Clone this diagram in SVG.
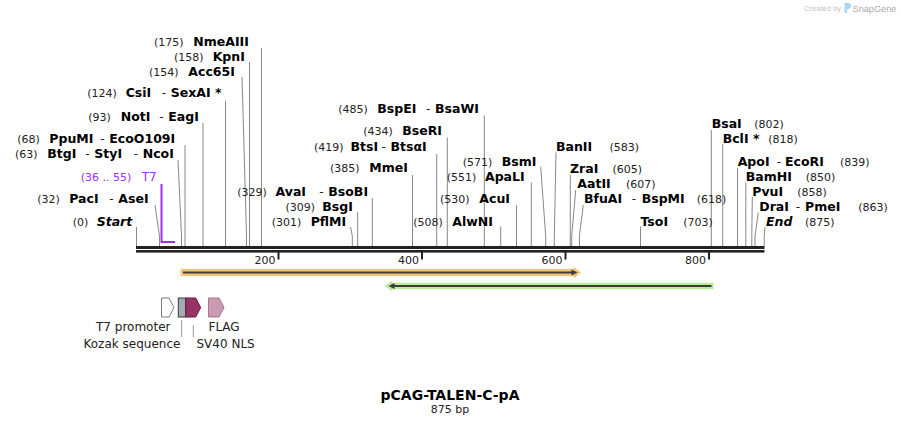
<svg xmlns="http://www.w3.org/2000/svg" width="901" height="425" viewBox="0 0 901 425">
<style>
.num{font-family:"DejaVu Sans",Verdana,sans-serif;font-size:11px;fill:#222}
.hy{font-family:"DejaVu Sans",Verdana,sans-serif;font-size:12px;fill:#222}
.nm{font-family:"DejaVu Sans",Verdana,sans-serif;font-size:12.5px;font-weight:bold;fill:#000}
.it{font-style:italic}
.site{stroke:#888;stroke-width:1;fill:none}
.flab{font-family:"DejaVu Sans",Verdana,sans-serif;font-size:12px;fill:#222}
.tick{font-family:"DejaVu Sans",Verdana,sans-serif;font-size:11px;fill:#222}
.t7{fill:#9b30ef}
.lead{stroke:#999;stroke-width:1}
</style>

<g id="watermark">
<text x="804" y="11" font-family="Liberation Sans,Arial,sans-serif" font-size="7.6" fill="#c4c4c4">Created by</text>
<path d="M844.5,3 h3.5 a3,3 0 0 1 0,6 h-0.8 v4 h-2.7 z" fill="#a6d6f4"/>
<text x="852.5" y="11.5" font-family="Liberation Sans,Arial,sans-serif" font-size="9.2" fill="#aaaaaa">SnapGene</text>
</g>

<g id="connectors">
<polyline class="site" points="136.5,227 136.5,246"/>
<polyline class="site" points="155,205 159.5,236 159.5,246"/>
<polyline class="site" points="178,160 181.5,236 181.5,246"/>
<polyline class="site" points="185,145 185,246"/>
<polyline class="site" points="203,123 203,246"/>
<polyline class="site" points="225.5,101 225.5,246"/>
<polyline class="site" points="242,77 246.5,236 246.5,246"/>
<polyline class="site" points="249.5,62 249.5,246"/>
<polyline class="site" points="261.5,48 261.5,246"/>
<polyline class="site" points="350.5,227 352.3,236 352.3,246"/>
<polyline class="site" points="357.7,212 357.7,246"/>
<polyline class="site" points="372.3,198 372.3,246"/>
<polyline class="site" points="412.5,175 412.5,246"/>
<polyline class="site" points="436.7,154 436.7,246"/>
<polyline class="site" points="447.3,137.5 447.3,246"/>
<polyline class="site" points="484.3,115.5 484.3,246"/>
<polyline class="site" points="500.7,226.5 500.7,246"/>
<polyline class="site" points="516.5,205 516.5,246"/>
<polyline class="site" points="531.3,182.5 531.3,246"/>
<polyline class="site" points="540.7,166.5 545.7,236 545.7,246"/>
<polyline class="site" points="556,152.5 554.3,236 554.3,246"/>
<polyline class="site" points="570.3,175 570.3,246"/>
<polyline class="site" points="575.7,190 571.7,236 571.7,246"/>
<polyline class="site" points="583.3,205 579.4,236 579.4,246"/>
<polyline class="site" points="640.5,226.5 640.5,246"/>
<polyline class="site" points="711.3,130 711.3,246"/>
<polyline class="site" points="722.7,144 722.7,246"/>
<polyline class="site" points="737.5,168 737.5,246"/>
<polyline class="site" points="745.8,182.5 745.8,246"/>
<polyline class="site" points="752.3,197 751.8,236 751.8,246"/>
<polyline class="site" points="758.3,212.5 755,236 755,246"/>
<polyline class="site" points="765,227 764.2,236 764.2,246"/>
<line class="lead" x1="181.7" y1="320" x2="181.7" y2="337"/>
<line class="lead" x1="193.3" y1="325" x2="193.3" y2="337"/>
</g>

<g id="backbone">
<rect x="136" y="246" width="628.5" height="3" fill="#222"/>
<rect x="136" y="250" width="628.5" height="2.6" fill="#222"/>
<rect x="277.5" y="252" width="2" height="7.5" fill="#222"/>
<rect x="421" y="252" width="2" height="7.5" fill="#222"/>
<rect x="564.5" y="252" width="2" height="7.5" fill="#222"/>
<rect x="708" y="252" width="2" height="7.5" fill="#222"/>
<text class="tick" x="275.5" y="263.5" text-anchor="end">200</text>
<text class="tick" x="419" y="263.5" text-anchor="end">400</text>
<text class="tick" x="562.5" y="263.5" text-anchor="end">600</text>
<text class="tick" x="706" y="263.5" text-anchor="end">800</text>
</g>

<g id="T7">
<polyline points="161.5,184 161.5,242 175,242" fill="none" stroke="#9b30ef" stroke-width="2"/>
<text y="180.5"><tspan class="num t7" x="80.7">(36 .. 55)</tspan><tspan class="hy t7" x="141.7">T7</tspan></text>
</g>

<g id="site-Start"><text y="226"><tspan class="num" x="72.7">(0)</tspan><tspan class="nm it" x="96.7">Start</tspan></text></g>
<g id="site-PacI"><text y="203"><tspan class="num" x="37.3">(32)</tspan><tspan class="nm" x="69.3">PacI</tspan><tspan class="hy" x="109.3">-</tspan><tspan class="nm" x="118.3">AseI</tspan></text></g>
<g id="site-BtgI"><text y="158"><tspan class="num" x="15">(63)</tspan><tspan class="nm" x="47.3">BtgI</tspan><tspan class="hy" x="85.3">-</tspan><tspan class="nm" x="94.3">StyI</tspan><tspan class="hy" x="133.7">-</tspan><tspan class="nm" x="142.7">NcoI</tspan></text></g>
<g id="site-PpuMI"><text y="143"><tspan class="num" x="17.3">(68)</tspan><tspan class="nm" x="49.3">PpuMI</tspan><tspan class="hy" x="100.3">-</tspan><tspan class="nm" x="109.3">EcoO109I</tspan></text></g>
<g id="site-NotI"><text y="120.5"><tspan class="num" x="88.3">(93)</tspan><tspan class="nm" x="120.7">NotI</tspan><tspan class="hy" x="159.3">-</tspan><tspan class="nm" x="168.3">EagI</tspan></text></g>
<g id="site-CsiI"><text y="96.5"><tspan class="num" x="87.3">(124)</tspan><tspan class="nm" x="125.7">CsiI</tspan><tspan class="hy" x="161.7">-</tspan><tspan class="nm" x="170.7">SexAI *</tspan></text></g>
<g id="site-Acc65I"><text y="76"><tspan class="num" x="149">(154)</tspan><tspan class="nm" x="188.3">Acc65I</tspan></text></g>
<g id="site-KpnI"><text y="61"><tspan class="num" x="174">(158)</tspan><tspan class="nm" x="212.7">KpnI</tspan></text></g>
<g id="site-NmeAIII"><text y="46"><tspan class="num" x="154">(175)</tspan><tspan class="nm" x="193.3">NmeAIII</tspan></text></g>

<g id="site-PflMI"><text y="225.5"><tspan class="num" x="271.7">(301)</tspan><tspan class="nm" x="310.7">PflMI</tspan></text></g>
<g id="site-BsgI"><text y="210.5"><tspan class="num" x="285.5">(309)</tspan><tspan class="nm" x="322.3">BsgI</tspan></text></g>
<g id="site-AvaI"><text y="196"><tspan class="num" x="237.3">(329)</tspan><tspan class="nm" x="275.5">AvaI</tspan><tspan class="hy" x="319.3">-</tspan><tspan class="nm" x="328.3">BsoBI</tspan></text></g>
<g id="site-MmeI"><text y="172"><tspan class="num" x="330">(385)</tspan><tspan class="nm" x="369.3">MmeI</tspan></text></g>
<g id="site-BtsI"><text y="150.5"><tspan class="num" x="314">(419)</tspan><tspan class="nm" x="350.5">BtsI</tspan><tspan class="hy" x="381.5">-</tspan><tspan class="nm" x="390.5">BtsαI</tspan></text></g>
<g id="site-BseRI"><text y="135"><tspan class="num" x="363.3">(434)</tspan><tspan class="nm" x="402.3">BseRI</tspan></text></g>
<g id="site-BspEI"><text y="113"><tspan class="num" x="338.3">(485)</tspan><tspan class="nm" x="377.3">BspEI</tspan><tspan class="hy" x="426">-</tspan><tspan class="nm" x="435">BsaWI</tspan></text></g>
<g id="site-AlwNI"><text y="225.5"><tspan class="num" x="413.3">(508)</tspan><tspan class="nm" x="452.3">AlwNI</tspan></text></g>
<g id="site-AcuI"><text y="202.5"><tspan class="num" x="440">(530)</tspan><tspan class="nm" x="479.3">AcuI</tspan></text></g>
<g id="site-ApaLI"><text y="181"><tspan class="num" x="446.7">(551)</tspan><tspan class="nm" x="485">ApaLI</tspan></text></g>
<g id="site-BsmI"><text y="165.5"><tspan class="num" x="462.7">(571)</tspan><tspan class="nm" x="501.7">BsmI</tspan></text></g>

<g id="site-BanII"><text y="151"><tspan class="nm" x="556">BanII</tspan><tspan class="num" x="609.5">(583)</tspan></text></g>
<g id="site-ZraI"><text y="173"><tspan class="nm" x="570">ZraI</tspan><tspan class="num" x="612.5">(605)</tspan></text></g>
<g id="site-AatII"><text y="188"><tspan class="nm" x="577.3">AatII</tspan><tspan class="num" x="626">(607)</tspan></text></g>
<g id="site-BfuAI"><text y="203"><tspan class="nm" x="584">BfuAI</tspan><tspan class="hy" x="631.7">-</tspan><tspan class="nm" x="641.7">BspMI</tspan><tspan class="num" x="696.7">(618)</tspan></text></g>
<g id="site-TsoI"><text y="226"><tspan class="nm" x="640.5">TsoI</tspan><tspan class="num" x="683.3">(703)</tspan></text></g>
<g id="site-BsaI"><text y="128"><tspan class="nm" x="711.7">BsaI</tspan><tspan class="num" x="754.3">(802)</tspan></text></g>
<g id="site-BclI"><text y="143"><tspan class="nm" x="722.7">BclI *</tspan><tspan class="num" x="768.3">(818)</tspan></text></g>
<g id="site-ApoI"><text y="166"><tspan class="nm" x="737.7">ApoI</tspan><tspan class="hy" x="776.7">-</tspan><tspan class="nm" x="785">EcoRI</tspan><tspan class="num" x="840">(839)</tspan></text></g>
<g id="site-BamHI"><text y="181"><tspan class="nm" x="745.7">BamHI</tspan><tspan class="num" x="805.7">(850)</tspan></text></g>
<g id="site-PvuI"><text y="196"><tspan class="nm" x="752.3">PvuI</tspan><tspan class="num" x="797.3">(858)</tspan></text></g>
<g id="site-DraI"><text y="211"><tspan class="nm" x="759.3">DraI</tspan><tspan class="hy" x="795.7">-</tspan><tspan class="nm" x="805">PmeI</tspan><tspan class="num" x="858.3">(863)</tspan></text></g>
<g id="site-End"><text y="226"><tspan class="nm it" x="766">End</tspan><tspan class="num" x="805">(875)</tspan></text></g>

<g id="orf-forward">
<path d="M181,269.3 H574 V267.6 L580.5,272.5 L574,277.4 V275.7 H181 Z" fill="#f8c673" stroke="#f2b45a" stroke-width="0.6"/>
<line x1="183" y1="272.5" x2="573" y2="272.5" stroke="#3d3d3d" stroke-width="1.8"/>
<polygon points="571.5,269.6 577.5,272.5 571.5,275.4" fill="#3d3d3d"/>
</g>
<g id="orf-reverse">
<path d="M713,283.3 H392 V281.6 L385.5,286 L392,290.4 V288.7 H713 Z" fill="#b9f08e" stroke="#9ee070" stroke-width="0.6"/>
<line x1="393" y1="286" x2="711.5" y2="286" stroke="#3d3d3d" stroke-width="1.8"/>
<polygon points="394.5,283.1 388.5,286 394.5,288.9" fill="#3d3d3d"/>
</g>

<g id="feat-T7promoter">
<polygon points="161.5,298 169,298 174,307.5 169,317 161.5,317" fill="#ffffff" stroke="#7a7a7a" stroke-width="1"/>
<text class="flab" x="96" y="331">T7 promoter</text>
</g>
<g id="feat-Kozak">
<rect x="178.3" y="298" width="7.4" height="19" fill="#a3abb3" stroke="#3a3a3a" stroke-width="1"/>
<text class="flab" x="83.5" y="348">Kozak sequence</text>
</g>
<g id="feat-SV40NLS">
<polygon points="185.7,298 195.7,298 200.7,307.5 195.7,317 185.7,317" fill="#993366" stroke="#5e1d3f" stroke-width="1"/>
<text class="flab" x="196.5" y="348">SV40 NLS</text>
</g>
<g id="feat-FLAG">
<polygon points="208.5,298 219,298 224,307.5 219,317 208.5,317" fill="#cc99b3" stroke="#a87593" stroke-width="1"/>
<text class="flab" x="208.5" y="331">FLAG</text>
</g>

<g id="title">
<text x="450" y="399.5" text-anchor="middle" font-family="DejaVu Sans,Verdana,sans-serif" font-size="14" font-weight="bold" fill="#000">pCAG-TALEN-C-pA</text>
<text x="450" y="412.5" text-anchor="middle" font-family="DejaVu Sans,Verdana,sans-serif" font-size="11" fill="#222">875 bp</text>
</g>
</svg>
